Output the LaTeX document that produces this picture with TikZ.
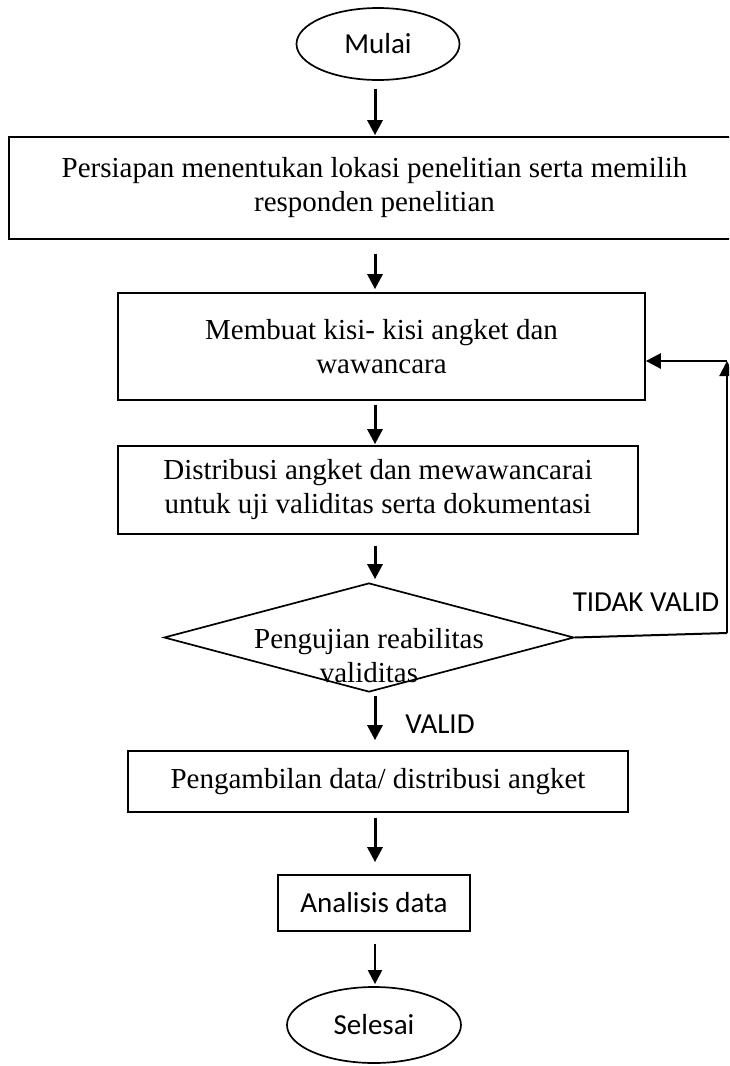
\documentclass[tikz,border=0pt]{standalone}
\usepackage{fontspec}
\setmainfont{Liberation Serif}
\newfontfamily\calibri{Carlito}
\usetikzlibrary{arrows.meta,shapes.geometric}

\tikzset{
  box/.style={draw, line width=1.7pt, align=center, inner sep=0pt,
    font=\fontsize{29}{34}\selectfont},
  term/.style={draw, ellipse, line width=1.7pt, inner sep=0pt,
    font=\calibri\fontsize{29}{34}\selectfont},
  decision/.style={draw, diamond, line width=1.7pt, inner sep=0pt},
  lbl/.style={font=\calibri\fontsize{29}{34}\selectfont},
  arr/.style={line width=3pt, -{Triangle[length=15pt,width=15pt]}},
}

\begin{document}
\begin{tikzpicture}[x=1pt,y=-1pt]
      \useasboundingbox (0,0) rectangle (729,1066);
      \clip (0,0) rectangle (729,1066);
      \coordinate (ax) at (375,0);
      \draw
        (378,44) node[term, minimum width=163, minimum height=72] (0){Mulai}
        (374.5,188) node[box, minimum width=731, minimum height=102] (1){Persiapan menentukan lokasi penelitian serta memilih\\responden penelitian}
        (381.5,346.5) node[box, minimum width=527, minimum height=107] (2){Membuat kisi- kisi angket dan\\wawancara}
        (378,490) node[box, minimum width=520, minimum height=88] (3){Distribusi angket dan mewawancarai\\untuk uji validitas serta dokumentasi}
        (369,637.5) node[decision, minimum width=410, minimum height=109] (4){}
        (369,656) node[box, draw=none] (4t){Pengujian reabilitas\\validitas}
        (378,781.5) node[box, minimum width=500, minimum height=61] (5){Pengambilan data/ distribusi angket}
        (374,903) node[term, rectangle, minimum width=192, minimum height=56] (6){Analisis data}
        (374,1025) node[term, minimum width=174, minimum height=76] (7){Selesai}
        (646,602) node[lbl] (tv){TIDAK VALID}
        (440,724) node[lbl] (v){VALID};
      \coordinate (t) at (727,633);
      \coordinate (c) at (727,361);
      \begin{scope}[arr]
        \draw[shorten <=8pt, shorten >=1pt] (0.south -| ax) to (1.north -| ax);
        \draw[shorten <=14pt, shorten >=3pt] (1.south -| ax) to (2.north -| ax);
        \draw[shorten <=4pt, shorten >=1pt] (2.south -| ax) to (3.north -| ax);
        \draw[shorten <=11pt, shorten >=3pt] (3.south -| ax) to (4.north -| ax);
        \draw[shorten <=3pt, shorten >=10pt] (4.south -| ax) to (5.north -| ax);
        \draw[shorten <=5pt, shorten >=12pt] (5.south -| ax) to (6.north -| ax);
        \draw[line width=2pt, -{Triangle[length=14pt,width=14pt]}, shorten <=12pt, shorten >=2pt] (6.south -| ax) to (7.north -| ax);
        \draw[line width=2pt] (t) to (c);
        \draw[line width=2.6pt] (c) to (2.east |- c);
      \end{scope}
      \draw[line width=2pt] (4.east) -- (t);
    \end{tikzpicture}
\end{document}
